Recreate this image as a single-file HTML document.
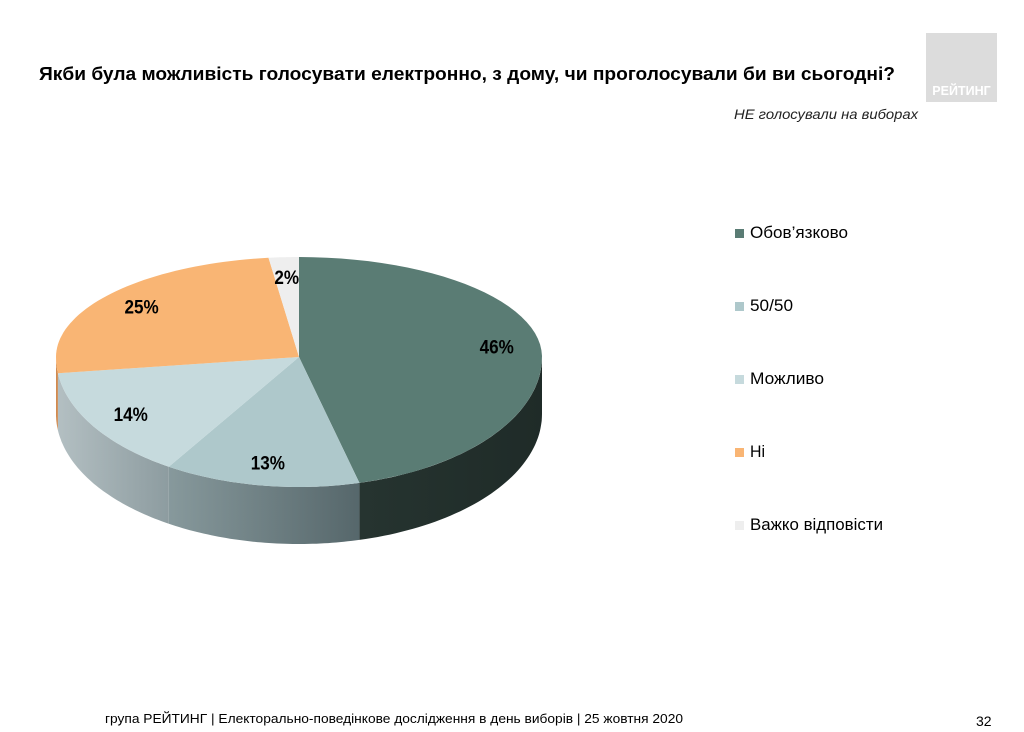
<!DOCTYPE html>
<html><head><meta charset="utf-8"><style>
body{margin:0;width:1024px;height:732px;background:#fff;font-family:"Liberation Sans",sans-serif;overflow:hidden;position:relative}
.t{position:absolute;white-space:nowrap;transform-origin:0 50%}
</style></head><body>
<div class="t fit" data-w="856" style="left:39px;top:63px;font-size:18.5px;font-weight:bold;color:#000">Якби була можливість голосувати електронно, з дому, чи проголосували би ви сьогодні?</div>
<div class="t fit" data-w="184" style="left:734px;top:106px;font-size:14px;font-style:italic;color:#222">НЕ голосували на виборах</div>
<div style="position:absolute;left:926px;top:33px;width:71px;height:69px;background:#dcdcdc"><div style="position:absolute;left:0;right:0;bottom:4px;text-align:center;color:#fff;font-weight:bold;font-size:12.5px">РЕЙТИНГ</div></div>
<svg width="1024" height="732" style="position:absolute;left:0;top:0" id="svg">
<defs>
<linearGradient id="g1" x1="0" x2="1"><stop offset="0" stop-color="#263430"/><stop offset="1" stop-color="#1f2b28"/></linearGradient>
<linearGradient id="g2" x1="0" x2="1"><stop offset="0" stop-color="#87999c"/><stop offset="1" stop-color="#56676b"/></linearGradient>
<linearGradient id="g3" x1="0" x2="1"><stop offset="0" stop-color="#b3bfc2"/><stop offset="1" stop-color="#8d9ca0"/></linearGradient>
</defs>
<g id="pie"></g>
</svg>
<div id="legend"></div>
<div class="t fit" data-w="578" style="left:105px;top:711px;font-size:13px;color:#000">група РЕЙТИНГ | Електорально-поведінкове дослідження в день виборів | 25 жовтня 2020</div>
<div class="t" style="left:976px;top:713px;font-size:14px;color:#000">32</div>
<script>
const categories=["Обов’язково","50/50","Можливо","Ні","Важко відповісти"];
const values=[46,13,14,25,2];
const colors=["#5a7c74","#aec8cb","#c6dadd","#f9b574","#eeeeee"];
const sideFills=["url(#g1)","url(#g2)","url(#g3)","#d08a50","#ccc"];
const legendWidths=[98,43,74,15,133];
const rx=243,ryTop=100,ryBot=130,depth=57,ax=299,ay=357;
const NS="http://www.w3.org/2000/svg";
const g=document.getElementById('pie');
function pt(a,d,r){r=r||1;const c=Math.cos(a);return [ax+rx*r*Math.sin(a),ay-(c>0?ryTop:ryBot)*r*c+(d||0)];}
function arc(a0,a1,d){let s="";const n=50;for(let i=0;i<=n;i++){const p=pt(a0+(a1-a0)*i/n,d);s+=(i?"L":"")+p[0].toFixed(1)+","+p[1].toFixed(1)+" ";}return s;}
const total=values.reduce((a,b)=>a+b,0);
let acc=0;const angs=[];
values.forEach(v=>{const a0=acc/total*2*Math.PI;acc+=v;angs.push([a0,acc/total*2*Math.PI]);});
angs.forEach(([a0,a1],i)=>{
  const s=Math.max(a0,Math.PI/2),e=Math.min(a1,1.5*Math.PI);
  if(e<=s)return;
  const p=document.createElementNS(NS,'path');
  p.setAttribute('d','M'+arc(s,e,0)+'L'+arc(e,s,depth)+'Z');
  p.setAttribute('fill',sideFills[i]);
  
  
  g.appendChild(p);
});
angs.forEach(([a0,a1],i)=>{
  const p=document.createElementNS(NS,'path');
  p.setAttribute('d','M'+ax+','+ay+' L'+arc(a0,a1,0)+'Z');
  p.setAttribute('fill',colors[i]);
  
  
  g.appendChild(p);
  const m=(a0+a1)/2;
  const lp=pt(m,0,values[i]<5?0.8:0.82);
  const t=document.createElementNS(NS,'text');
  t.setAttribute('x',lp[0]);t.setAttribute('y',lp[1]+7);
  t.setAttribute('text-anchor','middle');
  t.setAttribute('font-family','Liberation Sans, sans-serif');
  t.setAttribute('font-weight','bold');t.setAttribute('font-size','19');
  t.setAttribute('transform','translate('+lp[0]+',0) scale(0.9,1) translate('+(-lp[0])+',0)');
  t.textContent=values[i]+'%';
  
  
  g.appendChild(t);
});
const leg=document.getElementById('legend');
categories.forEach((c,i)=>{
  const sw=document.createElement('div');
  sw.style.cssText='position:absolute;left:735px;top:'+(229+i*73)+'px;width:9px;height:9px;background:'+colors[i];
  
  
  leg.appendChild(sw);
  const d=document.createElement('div');
  d.className='t fit';
  d.dataset.w=legendWidths[i];
  d.style.cssText='left:750px;top:'+(223+i*73)+'px;font-size:17px;color:#000';
  d.textContent=c;
  
  
  leg.appendChild(d);
});
document.querySelectorAll('.fit').forEach(el=>{
  const w=el.getBoundingClientRect().width;
  el.style.transform='scaleX('+(parseFloat(el.dataset.w)/w)+')';
});
</script>
</body></html>
